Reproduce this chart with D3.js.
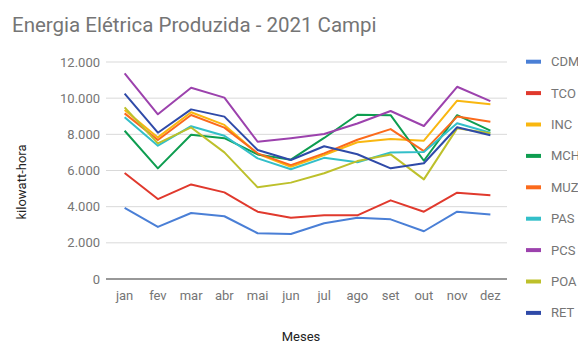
<!DOCTYPE html>
<html>
<head>
<meta charset="utf-8">
<script src="https://cdn.jsdelivr.net/npm/d3@7"></script>
<style>
  html, body { margin: 0; padding: 0; background: #fff; }
  svg { display: block; font-family: Roboto, "Noto Sans", sans-serif; }
</style>
</head>
<body>
<svg id="chart" width="578" height="343"></svg>
<script>
// Monthly electricity produced per campus, 2021 (kWh)
const months = ["jan", "fev", "mar", "abr", "mai", "jun", "jul", "ago", "set", "out", "nov", "dez"];
const campi = ["CDM", "TCO", "INC", "MCH", "MUZ", "PAS", "PCS", "POA", "RET"];

const cdm = [3930, 2880, 3650, 3470, 2530, 2490, 3080, 3390, 3300, 2640, 3720, 3570];
const tco = [5860, 4420, 5230, 4790, 3720, 3390, 3520, 3520, 4350, 3720, 4770, 4630];
const inc = [9340, 7830, 9220, 8520, 6920, 6210, 6860, 7560, 7740, 7650, 9860, 9660];
const mch = [8200, 6120, 7980, 7790, 6890, 6600, 7800, 9080, 9060, 6540, 9060, 8210];
const muz = [9160, 7690, 9070, 8370, 6950, 6300, 6950, 7700, 8290, 7070, 8980, 8700];
const pas = [8940, 7370, 8450, 7920, 6670, 6070, 6700, 6460, 7000, 7020, 8610, 8090];
const pcs = [11370, 9110, 10580, 10030, 7590, 7790, 8020, 8600, 9290, 8460, 10630, 9840];
const poa = [9490, 7500, 8380, 7000, 5070, 5330, 5850, 6520, 6890, 5510, 8330, 8060];
const ret = [10250, 8090, 9380, 8980, 7130, 6580, 7340, 6900, 6120, 6400, 8390, 7950];

const yTicks = [0, 2000, 4000, 6000, 8000, 10000, 12000];

const seriesValues = [cdm, tco, inc, mch, muz, pas, pcs, poa, ret];
const colors = ["#4a7fd6", "#e0392d", "#f9b710", "#0e9d50", "#fb6a1c", "#33bfc9", "#9c42ad", "#bdc02b", "#2f4aa8"];

const series = campi.map((name, i) => ({ name, values: seriesValues[i], color: colors[i] }));

const svg = d3.select("#chart");
const textColor = "#757575";
const fmt = d3.format(",.0f");
const ptBR = v => fmt(v).replace(/,/g, ".");

const x = d3.scaleBand().domain(months).range([108, 507]);
const y = d3.scaleLinear().domain([0, 12000]).range([279, 62]);

// Title
svg.append("text")
  .attr("x", 12).attr("y", 32)
  .attr("font-size", 20.5)
  .attr("fill", textColor)
  .text("Energia Elétrica Produzida - 2021 Campi");

// Horizontal gridlines
svg.append("g")
  .selectAll("line")
  .data(yTicks.filter(t => t !== 0))
  .join("line")
  .attr("x1", 106).attr("x2", 507)
  .attr("y1", d => y(d)).attr("y2", d => y(d))
  .attr("stroke", "#d9d9d9").attr("stroke-width", 1);

// Y axis labels
svg.append("g")
  .selectAll("text")
  .data(yTicks)
  .join("text")
  .attr("x", 100).attr("y", d => y(d) + 4.5)
  .attr("text-anchor", "end")
  .attr("font-size", 13)
  .attr("fill", textColor)
  .text(d => ptBR(d));

// Baseline
svg.append("line")
  .attr("x1", 106).attr("x2", 507)
  .attr("y1", y(0)).attr("y2", y(0))
  .attr("stroke", "#333").attr("stroke-width", 1.2);

// X axis labels
svg.append("g")
  .selectAll("text")
  .data(months)
  .join("text")
  .attr("x", d => x(d) + x.bandwidth() / 2)
  .attr("y", 300)
  .attr("text-anchor", "middle")
  .attr("font-size", 13)
  .attr("fill", textColor)
  .text(d => d);

// Axis titles
svg.append("text")
  .attr("x", 301).attr("y", 341)
  .attr("text-anchor", "middle")
  .attr("font-size", 13)
  .attr("fill", "#222")
  .text("Meses");

svg.append("text")
  .attr("transform", "translate(26,182) rotate(-90)")
  .attr("text-anchor", "middle")
  .attr("font-size", 13)
  .attr("fill", "#222")
  .text("kilowatt-hora");

// Series lines
const line = d3.line()
  .x((d, i) => x(months[i]) + x.bandwidth() / 2)
  .y(d => y(d));

svg.append("g")
  .selectAll("path")
  .data(series)
  .join("path")
  .attr("d", d => line(d.values))
  .attr("fill", "none")
  .attr("stroke", d => d.color)
  .attr("stroke-width", 2)
  .attr("stroke-linejoin", "round");

// Legend
const legend = svg.append("g")
  .selectAll("g")
  .data(series)
  .join("g")
  .attr("transform", (d, i) => `translate(526,${61.7 + i * 31.4})`);

legend.append("line")
  .attr("x1", 0).attr("x2", 15)
  .attr("stroke", d => d.color)
  .attr("stroke-width", 4);

legend.append("text")
  .attr("x", 25).attr("y", 4.5)
  .attr("font-size", 13)
  .attr("fill", textColor)
  .text(d => d.name);
</script>
</body>
</html>
